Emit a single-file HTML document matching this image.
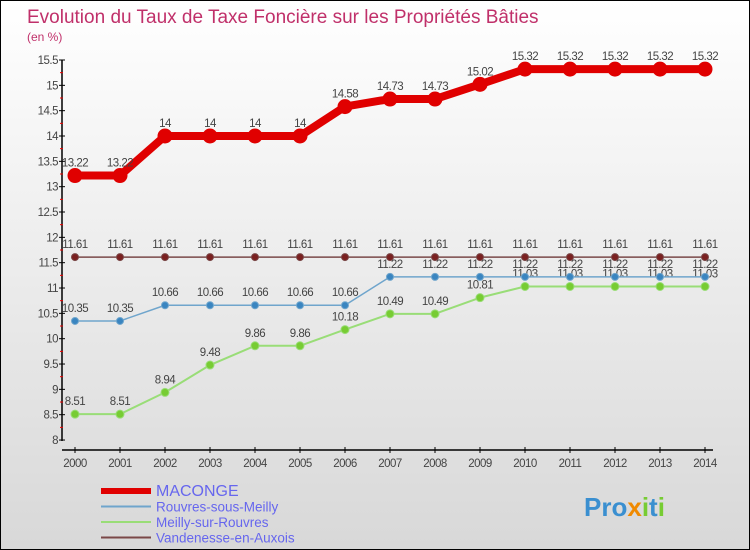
<!DOCTYPE html>
<html><head><meta charset="utf-8"><style>
body{margin:0}
#c{width:748px;height:548px;border:1px solid #000;background:linear-gradient(#fff,#d8d8d8);position:relative;overflow:hidden;font-family:"Liberation Sans",sans-serif}
</style></head><body>
<div id="c">
<svg id="s" width="748" height="548"></svg>
</div>
<script>
const years=[2000,2001,2002,2003,2004,2005,2006,2007,2008,2009,2010,2011,2012,2013,2014];
const macon=[13.22,13.22,14,14,14,14,14.58,14.73,14.73,15.02,15.32,15.32,15.32,15.32,15.32];
const rouvres=[10.35,10.35,10.66,10.66,10.66,10.66,10.66,11.22,11.22,11.22,11.22,11.22,11.22,11.22,11.22];
const meilly=[8.51,8.51,8.94,9.48,9.86,9.86,10.18,10.49,10.49,10.81,11.03,11.03,11.03,11.03,11.03];
const vand=[11.61,11.61,11.61,11.61,11.61,11.61,11.61,11.61,11.61,11.61,11.61,11.61,11.61,11.61,11.61];
const yTicks=[8,8.5,9,9.5,10,10.5,11,11.5,12,12.5,13,13.5,14,14.5,15,15.5];
const NS="http://www.w3.org/2000/svg",s=document.getElementById('s');
const X=i=>74+i*45, Y=v=>59+(15.5-v)*50.67;
function el(t,a,p){const e=document.createElementNS(NS,t);for(const k in a)e.setAttribute(k,a[k]);(p||s).appendChild(e);return e;}
function tx(x,y,str,a){const e=el('text',Object.assign({x:x,y:y},a));e.textContent=str;return e;}
let t=tx(26,22,'Evolution du Taux de Taxe Foncière sur les Propriétés Bâties',{fill:'#c0306a','font-size':19});

t=tx(26,40,'(en %)',{fill:'#c0306a','font-size':12});

let ax=el('line',{x1:61,y1:59,x2:61,y2:440,stroke:'#000','stroke-width':1.5});

ax=el('line',{x1:61,y1:449,x2:712,y2:449,stroke:'#000','stroke-width':1.5});

yTicks.forEach((v,i)=>{el('line',{x1:58,x2:64,y1:Y(v),y2:Y(v),stroke:'#000'});
 if(v<15.5)el('line',{x1:59,x2:62,y1:Y(v+0.25),y2:Y(v+0.25),stroke:'#e00'});
 const l=tx(57,Y(v)+4,String(v),{fill:'#444','font-size':11.5,'text-anchor':'end','letter-spacing':'-0.5'});
 });
years.forEach((y,i)=>{el('line',{x1:X(i),x2:X(i),y1:446,y2:452,stroke:'#000'});
 const l=tx(X(i),466,String(y),{fill:'#444','font-size':11.5,'text-anchor':'middle','letter-spacing':'-0.5'});
 });
function series(d,col,w,r,name,dot){
 const p=el('polyline',{points:d.map((v,i)=>X(i)+','+Y(v)).join(' '),fill:'none',stroke:col,'stroke-width':w,'stroke-linejoin':'round'});
 
 d.forEach((v,i)=>{const c=el('circle',{cx:X(i),cy:Y(v),r:r,fill:dot,stroke:col,'stroke-width':1});
  
  const l=tx(X(i),Y(v)-9,String(v),{fill:'#444','font-size':11.5,'text-anchor':'middle','letter-spacing':'-0.5'});
  });
}
series(meilly,'#99dd77',2,4,'meilly','#77cc33');
series(rouvres,'#6fa5cc',1.5,3.5,'rouvres','#3a85c0');
series(vand,'#7a4848',1.5,3.5,'vandenesse','#7a2020');
series(macon,'#e00000',8,7,'maconge','#e00000');
const leg=[['MACONGE','#e00000',6,16],['Rouvres-sous-Meilly','#6fa5cc',2,13.5],['Meilly-sur-Rouvres','#99dd77',2,13.5],['Vandenesse-en-Auxois','#7a4848',2,13.5]];
leg.forEach((g,i)=>{const y=493+i*15.5;
 const l=el('line',{x1:100,x2:150,y1:y-3,y2:y-3,stroke:g[1],'stroke-width':g[2]});
 
 const tt=tx(155,y+2,g[0],{fill:'#6666ee','font-size':g[3]});
 });
const logo=el('text',{x:583,y:515,'font-size':26,'font-weight':'bold'});
[['Pro','#3a8fd0'],['x','#f08a00'],['i','#77cc33'],['t','#3a8fd0'],['i','#77cc33']].forEach(p=>{const ts=el('tspan',{fill:p[1]},logo);ts.textContent=p[0];});

</script>
</body></html>
